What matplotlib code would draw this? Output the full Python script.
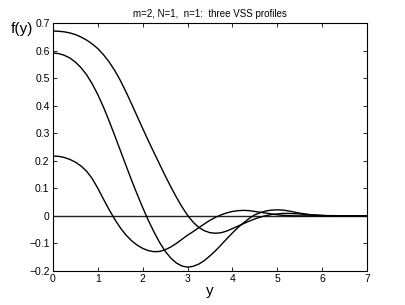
import numpy as np
import matplotlib
matplotlib.use("Agg")
import matplotlib.pyplot as plt

plt.rcParams['font.family'] = ['Liberation Sans', 'DejaVu Sans']

# sample points along y (step 0.125)
y = [i * 0.125 for i in range(57)]

# three profiles
f_top = [0.671, 0.670, 0.668, 0.664, 0.658, 0.649, 0.638, 0.624,
         0.607, 0.585, 0.559, 0.528, 0.492, 0.451, 0.407, 0.362,
         0.317, 0.273, 0.230, 0.188, 0.146, 0.106, 0.068, 0.033,
         0.002, -0.023, -0.042, -0.054, -0.061, -0.063, -0.061, -0.055,
         -0.046, -0.037, -0.028, -0.019, -0.011, -0.004, 0.001, 0.005,
         0.007, 0.009, 0.009, 0.008, 0.007, 0.005, 0.004, 0.003,
         0.002, 0.001, 0.001, 0.0, 0.0, 0.0, 0.0, 0.0, 0.0]
f_mid = [0.591, 0.589, 0.583, 0.573, 0.558, 0.538, 0.512, 0.479,
         0.440, 0.395, 0.345, 0.292, 0.238, 0.184, 0.130, 0.079,
         0.030, -0.016, -0.058, -0.096, -0.128, -0.153, -0.171, -0.182,
         -0.186, -0.183, -0.175, -0.162, -0.145, -0.126, -0.105, -0.083,
         -0.062, -0.042, -0.025, -0.009, 0.004, 0.012, 0.018, 0.021,
         0.022, 0.021, 0.018, 0.014, 0.010, 0.007, 0.004, 0.002,
         0.001, 0.0, 0.0, 0.0, 0.0, 0.0, 0.0, 0.0, 0.0]
f_low = [0.217, 0.216, 0.212, 0.205, 0.195, 0.181, 0.162, 0.135,
         0.100, 0.061, 0.023, -0.012, -0.043, -0.069, -0.090, -0.106,
         -0.118, -0.126, -0.130, -0.129, -0.123, -0.113, -0.100, -0.085,
         -0.070, -0.057, -0.043, -0.029, -0.016, -0.005, 0.004, 0.011,
         0.016, 0.019, 0.020, 0.019, 0.016, 0.013, 0.010, 0.007,
         0.004, 0.002, 0.001, 0.0, 0.0, 0.0, 0.0, 0.0,
         0.0, 0.0, 0.0, 0.0, 0.0, 0.0, 0.0, 0.0, 0.0]

xticks = [0, 1, 2, 3, 4, 5, 6, 7]
yticks = [-0.2, -0.1, 0, 0.1, 0.2, 0.3, 0.4, 0.5, 0.6, 0.7]
ylabels = ['\u22120.2', '\u22120.1', '0', '0.1', '0.2', '0.3', '0.4', '0.5', '0.6', '0.7']

fig = plt.figure(figsize=(4.06, 3.05), dpi=100)
ax = fig.add_axes([0.1305, 0.1115, 0.7735, 0.8131])

ax.axhline(0, color='#222222', lw=1.0)
for f in (f_top, f_mid, f_low):
    ax.plot(y, f, color='black', lw=1.0)

ax.set_xlim(0, 7)
ax.set_ylim(-0.2, 0.7)
ax.set_xticks(xticks)
ax.set_yticks(yticks)
ax.set_yticklabels(ylabels)
ax.tick_params(direction='in', top=True, right=True, length=3, width=0.6,
               labelsize=7.5, pad=2.5)
for s in ax.spines.values():
    s.set_linewidth(0.8)

ax.set_title('m=2, N=1,  n=1:  three VSS profiles', fontsize=7, pad=4)
ax.set_xlabel('y', fontsize=11, labelpad=0)
fig.text(0.055, 0.905, 'f(y)', fontsize=11, ha='center', va='center')

fig.savefig('out.png', dpi=100)
